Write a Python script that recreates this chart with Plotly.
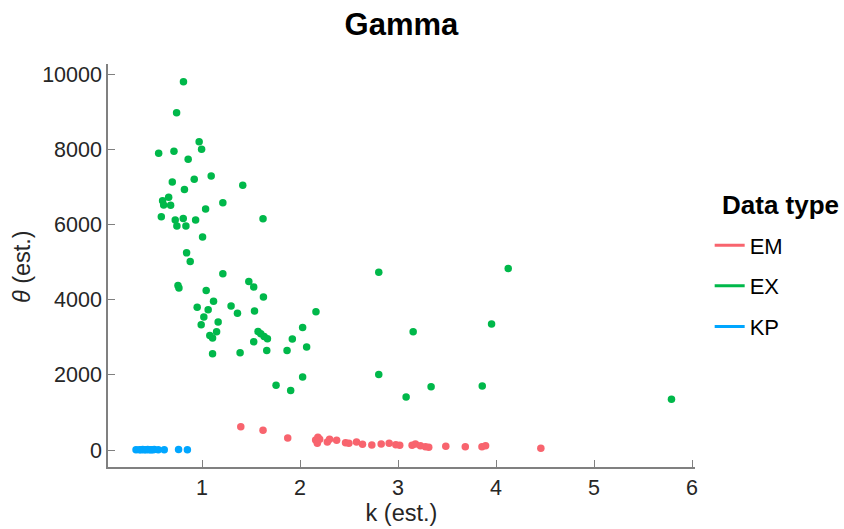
import plotly.graph_objects as go

# EX (green)
ex_k = [0.81, 0.74, 0.97, 0.995, 0.557, 0.713, 0.858, 0.696, 0.92, 1.093, 0.82, 1.415,
        0.597, 0.659, 0.608, 0.679, 1.212, 1.036, 0.584, 0.726, 0.808, 0.934, 1.622,
        0.743, 0.835, 1.005, 0.842, 0.879, 1.212, 0.754, 0.764, 1.477, 1.527, 1.042,
        1.626, 1.117, 0.95, 1.062, 1.296, 1.361, 1.535, 1.018, 1.164, 0.991, 1.148,
        1.079, 1.107, 1.571, 1.599, 1.633, 1.667, 1.527, 1.921, 2.026, 1.66, 1.867,
        1.107, 1.388, 2.026, 2.067, 2.162, 2.803, 4.124, 3.154, 3.954, 1.755, 1.904,
        2.803, 3.082, 3.337, 3.859, 5.79]
ex_theta = [9795, 8968, 8195, 8000, 7893, 7947, 7733, 7128, 7200, 7289, 6925, 7040,
            6632, 6720, 6515, 6507, 6578, 6408, 6205, 6115, 6160, 6115, 6152,
            5955, 5955, 5662, 5245, 5013, 4685, 4373, 4307, 4480, 4338, 4240,
            4072, 3955, 3795, 3733, 3832, 3635, 3699, 3539, 3405, 3333, 3147,
            3048, 2979, 3155, 3093, 3021, 2960, 2880, 2952, 3261, 2648, 2648,
            2560, 2587, 1939, 2739, 3680, 4728, 4827, 3147, 3352, 1725, 1581,
            2008, 1413, 1680, 1699, 1352]

# EM (red)
em_k = [1.395, 1.622, 1.874, 2.159, 2.182, 2.176, 2.2, 2.278, 2.301, 2.373, 2.464, 2.498,
        2.576, 2.637, 2.732, 2.828, 2.909, 2.977, 3.017, 3.143, 3.177, 3.228, 3.279,
        3.313, 3.487, 3.686, 3.856, 3.893, 4.457]
em_theta = [621, 525, 320, 267, 339, 179, 285, 213, 285, 259, 195, 179,
            213, 152, 133, 160, 179, 141, 125, 125, 160, 115, 88,
            72, 99, 88, 88, 115, 45]

# KP (blue)
kp_k = [0.326, 0.36, 0.377, 0.394, 0.41, 0.428, 0.445, 0.462, 0.479, 0.496, 0.512,
        0.553, 0.614, 0.76, 0.85]
kp_theta = [8, 10, 9, 11, 7, 10, 12, 9, 8, 10, 11, 9, 10, 12, 8]

x_ticks = [1, 2, 3, 4, 5, 6]
y_ticks = [0, 2000, 4000, 6000, 8000, 10000]

groups = ["EM", "EX", "KP"]
colors = {"EM": "#F8646E", "EX": "#00B84A", "KP": "#00A6FF"}
data = {"EM": (em_k, em_theta), "EX": (ex_k, ex_theta), "KP": (kp_k, kp_theta)}

FONT = "Liberation Sans, Arial, sans-serif"

fig = go.Figure()
for g in ["EX", "EM", "KP"]:
    k, th = data[g]
    fig.add_trace(go.Scatter(x=k, y=th, mode="markers", showlegend=False,
                             marker=dict(size=7.5, color=colors[g], line=dict(width=0))))
for g in groups:
    fig.add_trace(go.Scatter(x=[None], y=[None], mode="lines", name=g, legendgroup=g,
                             line=dict(color=colors[g], width=3)))

axis = dict(showline=True, linecolor="#808080", linewidth=1.5, ticks="inside", ticklen=7,
            tickcolor="#808080", showgrid=False, zeroline=False, automargin=False,
            tickfont=dict(size=21.5, color="#262626", family=FONT),
            title_font=dict(size=23.5, color="#262626", family=FONT))

fig.update_layout(
    width=844, height=529, plot_bgcolor="white", paper_bgcolor="white",
    margin=dict(l=108, r=149, t=64, b=62),
    title=dict(text="<b>Gamma</b>", x=0.4757, xanchor="center", y=0.9546, yanchor="middle",
               font=dict(size=31, color="black", family=FONT)),
    xaxis=dict(axis, range=[0.04, 6.03], tickvals=x_ticks, ticktext=[str(v) for v in x_ticks],
               title=dict(text="k (est.)", standoff=0)),
    yaxis=dict(axis, range=[-452, 10266], tickvals=y_ticks, ticktext=[str(v) for v in y_ticks]),
    legend=dict(x=1.025, xanchor="left", y=0.602, yanchor="top", tracegroupgap=9,
                font=dict(size=22, color="black", family=FONT)),
    font=dict(family=FONT),
    annotations=[
        dict(text="<b>Data type</b>", xref="paper", yref="paper", x=1.043, y=0.65,
             xanchor="left", yanchor="middle", showarrow=False,
             font=dict(size=26, color="black", family=FONT)),
        dict(text="<i>θ</i> (est.)", xref="paper", yref="paper", x=-0.1465, y=0.496,
             xanchor="center", yanchor="middle", textangle=-90, showarrow=False,
             font=dict(size=23.5, color="#262626", family=FONT)),
    ],
)

fig.write_html("out.html", config={"displayModeBar": False},
               post_script="document.body.style.margin='0';document.body.style.overflow='hidden';")
